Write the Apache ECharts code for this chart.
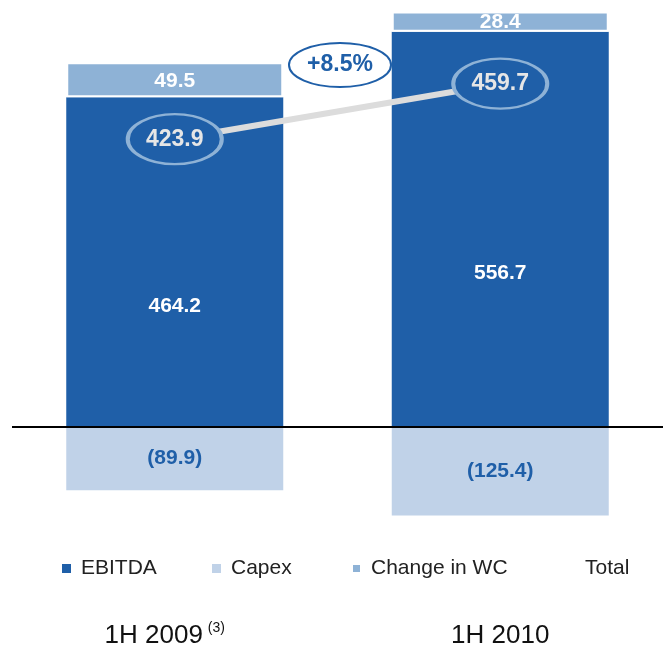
<!DOCTYPE html>
<html>
<head>
<meta charset="utf-8">
<script src="https://cdn.jsdelivr.net/npm/echarts@6/dist/echarts.min.js"></script>
<style>
  html, body { margin: 0; padding: 0; background: #fff; }
  #main { width: 663px; height: 649px; }
</style>
</head>
<body>
<div id="main"></div>
<script>
// 数据
var categories = ['1H 2009', '1H 2010'];
var footnotes = ['(3)', ''];
var ebitda = [464.2, 556.7];
var capex = [-89.9, -125.4];
var changeWC = [49.5, 28.4];
var total = [423.9, 459.7];
var growthText = '+8.5%';

var DARK = '#1F5FA8', LIGHT = '#C0D2E8', MID = '#8EB2D6';
var FONT = '"Liberation Sans", Arial, sans-serif';

var chart = echarts.init(document.getElementById('main'));

function legendItem(name, left) {
  return {
    data: [name],
    left: left,
    top: 558,
    padding: 0,
    icon: 'rect',
    itemWidth: 9,
    itemHeight: 9,
    selectedMode: false,
    textStyle: { fontFamily: FONT, fontSize: 21, color: '#222', padding: [0, 0, 0, 5] }
  };
}

var totalLegend = legendItem('Total', 565);
totalLegend.itemStyle = { opacity: 0 };
totalLegend.lineStyle = { opacity: 0 };

chart.setOption({
  backgroundColor: '#fff',
  animation: false,
  textStyle: { fontFamily: FONT },
  legend: [
    legendItem('EBITDA', 62),
    legendItem('Capex', 212),
    legendItem('Change in WC', 351),
    totalLegend
  ],
  grid: { left: 12, top: 1, width: 656, height: 535 },
  xAxis: {
    type: 'category',
    data: categories,
    axisLine: { show: false, onZero: false },
    axisTick: { show: false },
    axisLabel: {
      margin: 88,
      formatter: function (v, i) {
        return footnotes[i] ? '{a|' + v + '}{s|' + footnotes[i] + '}' : '{a|' + v + '}';
      },
      rich: {
        a: { fontFamily: FONT, fontSize: 26, color: '#111', lineHeight: 30 },
        s: { fontFamily: FONT, fontSize: 14, color: '#111', lineHeight: 18,
             verticalAlign: 'top', padding: [0, 20, 0, 5] }
      }
    }
  },
  yAxis: [
    { type: 'value', min: -150, max: 600, show: false },
    { type: 'value', min: 170, max: 513, show: false }
  ],
  series: [
    {
      name: 'EBITDA',
      type: 'bar',
      stack: 'cf',
      barWidth: 217,
      data: ebitda,
      itemStyle: { color: DARK },
      label: {
        show: true, position: 'inside', offset: [0, 44],
        color: '#fff', fontSize: 21, fontWeight: 'bold'
      }
    },
    {
      name: 'Capex',
      type: 'bar',
      stack: 'cf',
      barWidth: 217,
      data: capex,
      itemStyle: { color: LIGHT },
      label: {
        show: true, position: 'inside',
        color: DARK, fontSize: 21, fontWeight: 'bold',
        formatter: function (p) { return '(' + Math.abs(p.value).toFixed(1) + ')'; }
      },
      markLine: {
        silent: true,
        symbol: 'none',
        label: { show: false },
        lineStyle: { color: '#000', width: 2, type: 'solid' },
        data: [{ yAxis: 0 }]
      }
    },
    {
      name: 'Change in WC',
      type: 'bar',
      stack: 'cf',
      barWidth: 217,
      data: changeWC,
      itemStyle: { color: MID, borderColor: '#fff', borderWidth: 2 },
      label: {
        show: true, position: 'inside', offset: [0, 1],
        color: '#fff', fontSize: 21, fontWeight: 'bold'
      }
    },
    {
      name: 'Total',
      type: 'line',
      yAxisIndex: 1,
      z: 5,
      data: total,
      symbol: 'circle',
      symbolSize: [94, 50],
      lineStyle: { color: '#DCDCDC', width: 6 },
      itemStyle: { color: DARK, borderColor: MID, borderWidth: 3 },
      label: {
        show: true, position: 'inside',
        color: '#E6E6E6', fontSize: 23, fontWeight: 'bold'
      }
    }
  ],
  graphic: [{
    type: 'group',
    left: 288,
    top: 42,
    z: 10,
    children: [
      {
        type: 'ellipse',
        shape: { cx: 52, cy: 23, rx: 51, ry: 22 },
        style: { fill: '#fff', stroke: DARK, lineWidth: 2 }
      },
      {
        type: 'text',
        x: 52, y: 23,
        style: {
          text: growthText, fill: DARK, font: 'bold 23px ' + FONT,
          align: 'center', verticalAlign: 'middle'
        }
      }
    ]
  }]
});
</script>
</body>
</html>
